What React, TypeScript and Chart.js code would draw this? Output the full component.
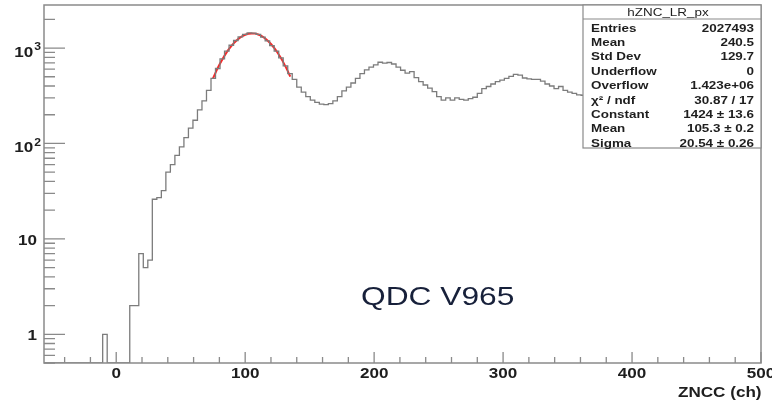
import React, { useEffect, useRef } from 'react';
import { Chart, registerables } from 'chart.js';

Chart.register(...registerables);

// ---- axis ranges ----
const X_MIN = -56;
const X_MAX = 500;
const Y_MIN = 0.5;
const Y_MAX = 2825;

// ---- histogram hZNC_LR_px (bin width 3.5 ch starting at -56) ----
const BIN_START = -56;
const BIN_WIDTH = 3.5;
const binCounts = [
  0, 0, 0, 0, 0, 0, 0, 0, 0, 0, 0, 0, 0,
  1,
  0, 0, 0, 0, 0,
  2, 2, 7, 5, 6, 26, 27, 32, 50, 60, 75, 92, 115, 145, 175, 225, 280, 360,
  480, 610, 770, 930, 1070, 1200, 1310, 1390, 1440, 1430, 1390, 1300, 1190,
  1060, 930, 790, 650, 540,
  470, 390, 345, 310, 285, 270, 258, 255, 262, 280, 310, 355, 390, 430, 480,
  540, 590, 630, 665, 710, 695, 705, 680, 630, 585, 545, 565, 490, 445, 410,
  380, 350, 310, 285, 300, 285, 300, 290, 285, 295, 305, 335, 375, 395, 420,
  445, 460, 480, 505, 530, 520, 485, 475, 470, 470, 450, 420, 400, 375, 395,
  360, 345, 335, 323, 320,
  318, 322, 310, 305, 312, 300, 295, 298, 290, 285, 288, 280, 276, 280, 272,
  268, 270, 262, 258, 262, 255, 250, 252, 246, 240, 244, 238, 232, 235, 228,
  224, 226, 220, 215, 218, 212, 208, 210, 205,
];

// ---- gaussian fit curve ----
const fitX = [75, 77.5, 80, 82.5, 85, 87.5, 90, 92.5, 95, 97.5, 100, 102.5, 105, 107.5, 110, 112.5, 115, 117.5, 120, 122.5, 125, 127.5, 130, 132.5, 135];
const fitY = [480, 570, 667, 769, 874, 978, 1079, 1173, 1256, 1325, 1377, 1411, 1424, 1416, 1387, 1339, 1274, 1194, 1102, 1003, 899, 794, 691, 593, 501];

// ---- ticks ----
const xTickValues = [0, 100, 200, 300, 400, 500];
const xTickLabels = ['0', '100', '200', '300', '400', '500'];
const yTickValues = [1, 10, 100, 1000];
const yTickLabels = ['1', '10', '10^2', '10^3'];

// ---- texts ----
const xAxisTitle = 'ZNCC (ch)';
const annotationText = 'QDC V965';
const statsTitle = 'hZNC_LR_px';
const statsLabels = ['Entries', 'Mean', 'Std Dev', 'Underflow', 'Overflow', 'χ² / ndf', 'Constant', 'Mean', 'Sigma'];
const statsValues = ['2027493', '240.5', '129.7', '0', '1.423e+06', '30.87 / 17', '1424 ± 13.6', '105.3 ± 0.2', '20.54 ± 0.26'];

const FONT = '"Liberation Sans", Arial, Helvetica, sans-serif';
const SX = 1.22;
const LINE = '#8a8a8a';
const TEXT = '#1e1e1e';

function drawText(
  ctx: CanvasRenderingContext2D,
  text: string,
  x: number,
  baseline: number,
  font: string,
  align: 'left' | 'right' | 'center',
  color: string,
  sx: number = SX
) {
  ctx.save();
  ctx.font = font;
  ctx.fillStyle = color;
  ctx.textBaseline = 'alphabetic';
  ctx.textAlign = 'left';
  const w = ctx.measureText(text).width * sx;
  const left = align === 'left' ? x : align === 'right' ? x - w : x - w / 2;
  ctx.translate(left, baseline);
  ctx.scale(sx, 1);
  ctx.fillText(text, 0, 0);
  ctx.restore();
  return w;
}

function measure(ctx: CanvasRenderingContext2D, text: string, font: string, sx: number = SX) {
  ctx.save();
  ctx.font = font;
  const w = ctx.measureText(text).width * sx;
  ctx.restore();
  return w;
}

const rootDecor = {
  id: 'rootDecor',
  afterDatasetsDraw(chart: any) {
    const { ctx, chartArea: ca, scales } = chart;
    const xs = scales.x;
    const ys = scales.y;
    ctx.save();

    // frame
    ctx.strokeStyle = LINE;
    ctx.lineWidth = 1.5;
    ctx.strokeRect(ca.left, ca.top, ca.right - ca.left, ca.bottom - ca.top);

    // x ticks (inward)
    ctx.lineWidth = 1.3;
    ctx.beginPath();
    for (let v = -40; v <= X_MAX; v += 20) {
      if (v < X_MIN) continue;
      const px = xs.getPixelForValue(v);
      const len = v % 100 === 0 ? 11 : 6;
      ctx.moveTo(px, ca.bottom);
      ctx.lineTo(px, ca.bottom - len);
    }
    ctx.stroke();

    // y ticks (inward, log)
    ctx.beginPath();
    for (let d = -1; d <= 3; d++) {
      for (let m = 1; m <= 9; m++) {
        const v = m * Math.pow(10, d);
        if (v < Y_MIN || v > Y_MAX) continue;
        const py = ys.getPixelForValue(v);
        const len = m === 1 ? 21 : 11;
        ctx.moveTo(ca.left, py);
        ctx.lineTo(ca.left + len, py);
      }
    }
    ctx.stroke();

    // x tick labels
    const tickFont = `bold 14px ${FONT}`;
    xTickValues.forEach((v, i) => {
      const px = xs.getPixelForValue(v);
      drawText(ctx, xTickLabels[i], px, ca.bottom + 15, tickFont, 'center', TEXT);
    });

    // y tick labels
    const supFont = `bold 10px ${FONT}`;
    yTickValues.forEach((v, i) => {
      const py = ys.getPixelForValue(v);
      const parts = yTickLabels[i].split('^');
      if (parts.length === 2) {
        const we = measure(ctx, parts[1], supFont);
        const right = 41;
        drawText(ctx, parts[1], right - we, py + 2.2, supFont, 'left', TEXT);
        drawText(ctx, parts[0], right - we - 1, py + 9, tickFont, 'right', TEXT);
      } else {
        drawText(ctx, parts[0], 37, py + 6, tickFont, 'right', TEXT);
      }
    });

    // x axis title
    drawText(ctx, xAxisTitle, ca.right + 0.5, 397, `bold 14px ${FONT}`, 'right', TEXT);

    // annotation
    drawText(ctx, annotationText, 361, 305, `26px ${FONT}`, 'left', '#17203a');

    // stats box
    const bx = 583;
    const by = ca.top;
    const bw = ca.right - bx;
    const bh = 148 - by;
    ctx.fillStyle = '#ffffff';
    ctx.fillRect(bx, by, bw, bh);
    ctx.strokeStyle = LINE;
    ctx.lineWidth = 1.2;
    ctx.strokeRect(bx, by, bw, bh);
    ctx.beginPath();
    ctx.moveTo(bx, 19);
    ctx.lineTo(bx + bw, 19);
    ctx.stroke();

    const statFont = `bold 11px ${FONT}`;
    drawText(ctx, statsTitle, bx + bw / 2 - 4, 16, `11px ${FONT}`, 'center', TEXT);
    statsLabels.forEach((lab, i) => {
      const base = 27.5 + i * 14.4 + 4;
      drawText(ctx, lab, 591, base, statFont, 'left', TEXT);
      drawText(ctx, statsValues[i], 754, base, statFont, 'right', TEXT);
    });

    ctx.restore();
  },
};

export default function App() {
  const canvasRef = useRef<HTMLCanvasElement | null>(null);

  useEffect(() => {
    const canvas = canvasRef.current;
    if (!canvas) return;

    const histPoints = binCounts.map((c, i) => ({
      x: BIN_START + i * BIN_WIDTH,
      y: c > 0 ? c : Y_MIN,
    }));
    histPoints.push({
      x: BIN_START + binCounts.length * BIN_WIDTH,
      y: binCounts[binCounts.length - 1] > 0 ? binCounts[binCounts.length - 1] : Y_MIN,
    });
    const fitPoints = fitX.map((x, i) => ({ x, y: fitY[i] }));

    const chart = new Chart(canvas, {
      type: 'line',
      data: {
        datasets: [
          {
            label: 'hZNC_LR_px',
            data: histPoints,
            stepped: 'before',
            borderColor: '#7c7c7c',
            borderWidth: 1.3,
            pointRadius: 0,
            fill: false,
          },
          {
            label: 'fit',
            data: fitPoints,
            borderColor: '#f52a2a',
            borderWidth: 2,
            pointRadius: 0,
            cubicInterpolationMode: 'monotone',
            fill: false,
          },
        ],
      },
      options: {
        animation: false,
        responsive: false,
        maintainAspectRatio: false,
        events: [],
        layout: { padding: { left: 44, right: 11, top: 5, bottom: 38 } },
        scales: {
          x: { type: 'linear', min: X_MIN, max: X_MAX, display: false },
          y: { type: 'logarithmic', min: Y_MIN, max: Y_MAX, display: false },
        },
        plugins: {
          legend: { display: false },
          tooltip: { enabled: false },
          title: { display: false },
        },
      },
      plugins: [rootDecor],
    });

    return () => {
      chart.destroy();
    };
  }, []);

  return (
    <div style={{ position: 'fixed', left: 0, top: 0, width: 772, height: 401, background: '#ffffff' }}>
      <canvas ref={canvasRef} width={772} height={401} style={{ display: 'block' }} />
    </div>
  );
}
